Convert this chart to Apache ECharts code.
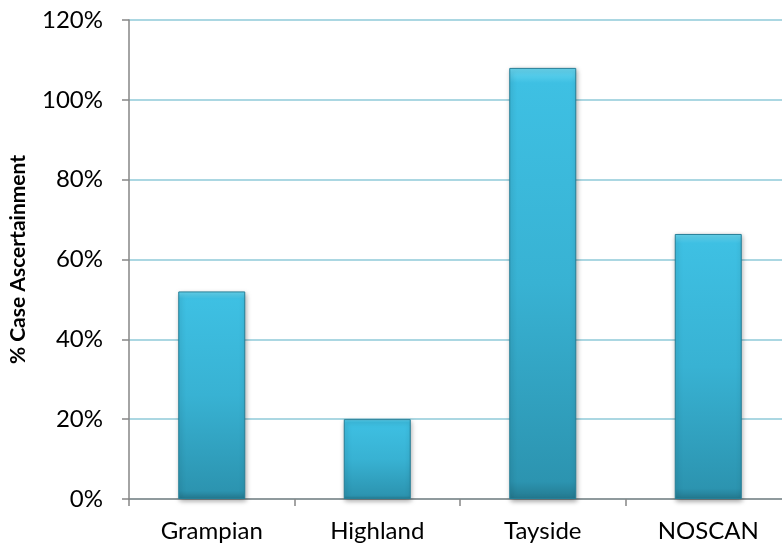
<!DOCTYPE html>
<html><head><meta charset="utf-8">
<script src="https://cdn.jsdelivr.net/npm/echarts@6/dist/echarts.min.js"></script>
<style>html,body{margin:0;padding:0;background:#fff;overflow:hidden}#c{width:782px;height:548px}</style>
</head><body><div id="c"></div>
<script>
const categories = ['Grampian', 'Highland', 'Tayside', 'NOSCAN'];
const values = [52, 20, 108, 66.4];
const yTicks = [0, 20, 40, 60, 80, 100, 120];
const yTitle = '% Case Ascertainment';

const chart = echarts.init(document.getElementById('c'), null, {renderer: 'canvas'});
chart.setOption({
  animation: false,
  grid: {left: 129, width: 662, top: 20, bottom: 49, containLabel: false, outerBoundsMode: 'none'},
  xAxis: {
    type: 'category', data: categories, boundaryGap: true,
    axisLine: {lineStyle: {color: '#868686', width: 1.5}},
    axisTick: {show: true, length: 7, alignWithLabel: false, lineStyle: {color: '#868686', width: 1.5}},
    axisLabel: {margin: 20, fontFamily: 'Lato', fontSize: 24, color: '#000'}
  },
  yAxis: {
    type: 'value', min: yTicks[0], max: yTicks[yTicks.length - 1], interval: 20,
    name: yTitle, nameLocation: 'middle', nameGap: 100, nameRotate: 90,
    nameTextStyle: {fontFamily: 'Lato', fontWeight: 'bold', fontSize: 21, color: '#000'},
    axisLine: {show: true, lineStyle: {color: '#868686', width: 1.5}},
    axisTick: {show: true, length: 7, lineStyle: {color: '#868686', width: 1.5}},
    axisLabel: {margin: 26, fontFamily: 'Lato', fontSize: 24, color: '#000', formatter: v => v + '%'},
    splitLine: {show: true, lineStyle: {color: '#8FCAD9', width: 1.5}}
  },
  series: [{
    type: 'bar', data: values, barWidth: 67,
    itemStyle: {
      color: new echarts.graphic.LinearGradient(0, 0, 0, 1, [
        {offset: 0, color: '#6AD8F2'},
        {offset: 0.035, color: '#3EC0E3'},
        {offset: 0.5, color: '#38B2D3'},
        {offset: 0.96, color: '#2C94B0'},
        {offset: 1, color: '#24798F'}
      ]),
      borderColor: '#267F97', borderWidth: 1,
      shadowColor: 'rgba(0,0,0,0.35)', shadowBlur: 5, shadowOffsetX: 1, shadowOffsetY: 2
    }
  }]
});
</script></body></html>
